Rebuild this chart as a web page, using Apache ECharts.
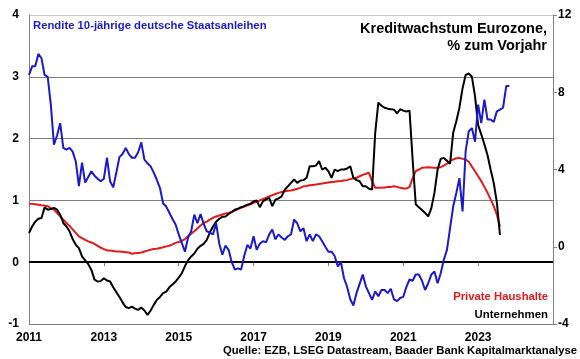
<!DOCTYPE html>
<html>
<head>
<meta charset="utf-8">
<script src="https://cdn.jsdelivr.net/npm/echarts@6/dist/echarts.min.js"></script>
<style>
html,body{margin:0;padding:0;background:#fff;}
#c{width:580px;height:359px;}
</style>
</head>
<body>
<div id="c"></div>
<script>
// Monthly data starting January 2011
const startYear = 2011;
const xTickLabels = ['2011','2013','2015','2017','2019','2021','2023'];
const leftTicks = [-1, 0, 1, 2, 3, 4];
const rightTicks = [-4, 0, 4, 8, 12];

// Rendite 10-jährige deutsche Staatsanleihen (%), left axis
const yieldValues = [
  3.03,3.17,3.17,3.37,3.30,3.03,3.00,2.55,1.90,2.05,2.25,1.85,
  1.82,1.85,1.79,1.63,1.23,1.61,1.29,1.38,1.47,1.40,1.35,1.31,
  1.35,1.69,1.31,1.21,1.45,1.70,1.75,1.85,1.75,1.69,1.69,1.78,
  1.94,1.66,1.60,1.55,1.45,1.33,1.20,0.95,0.90,0.80,0.70,0.61,
  0.45,0.31,0.17,0.40,0.50,0.77,0.63,0.78,0.62,0.50,0.48,0.45,
  0.63,0.30,0.12,0.27,0.20,0.00,-0.12,-0.10,-0.12,0.10,0.28,0.22,
  0.42,0.20,0.30,0.34,0.32,0.45,0.53,0.37,0.45,0.40,0.36,0.42,
  0.45,0.69,0.63,0.50,0.55,0.34,0.45,0.34,0.45,0.42,0.34,0.25,
  0.17,0.17,0.10,-0.07,0.00,-0.26,-0.40,-0.60,-0.70,-0.50,-0.35,-0.20,
  -0.39,-0.50,-0.61,-0.47,-0.55,-0.45,-0.45,-0.50,-0.43,-0.60,-0.63,-0.58,
  -0.56,-0.40,-0.28,-0.30,-0.20,-0.20,-0.30,-0.45,-0.34,-0.20,-0.15,-0.34,
  -0.18,0.04,0.20,0.55,0.90,1.12,1.36,0.82,1.80,2.12,2.17,1.95,
  2.55,2.25,2.63,2.31,2.31,2.27,2.44,2.47,2.50,2.85,2.85
];

// Kreditwachstum private Haushalte (% yoy), right axis
const householdValues = [
  2.23,2.22,2.20,2.18,2.15,2.13,2.10,2.00,1.92,1.75,1.58,1.40,
  1.23,1.08,0.90,0.72,0.54,0.45,0.36,0.28,0.22,0.15,0.05,-0.05,
  -0.12,-0.19,-0.20,-0.22,-0.24,-0.24,-0.26,-0.28,-0.30,-0.36,-0.34,-0.32,
  -0.30,-0.25,-0.20,-0.15,-0.12,-0.10,-0.06,-0.03,0.02,0.05,0.12,0.20,
  0.25,0.30,0.40,0.55,0.68,0.80,0.95,1.10,1.23,1.30,1.40,1.50,
  1.57,1.62,1.67,1.72,1.75,1.80,1.87,1.95,2.01,2.08,2.15,2.20,
  2.27,2.33,2.40,2.47,2.53,2.60,2.67,2.73,2.79,2.83,2.87,2.90,
  2.91,2.95,3.00,3.05,3.13,3.15,3.18,3.20,3.22,3.25,3.27,3.30,
  3.33,3.35,3.37,3.39,3.40,3.43,3.45,3.50,3.55,3.57,3.65,3.72,
  3.78,3.83,3.40,3.05,3.05,3.05,3.07,3.09,3.10,3.13,3.10,3.05,
  3.02,3.01,3.10,3.55,3.92,4.00,4.09,4.10,4.12,4.10,4.09,4.09,
  4.12,4.20,4.30,4.43,4.52,4.58,4.60,4.55,4.52,4.40,4.15,3.91,
  3.65,3.40,3.10,2.80,2.45,2.10,1.66,1.05
];

// Kreditwachstum Unternehmen (% yoy), right axis
const corporateValues = [
  0.71,1.05,1.30,1.45,1.49,2.04,1.92,1.95,2.01,1.92,1.66,1.23,
  1.05,0.80,0.40,0.10,-0.07,-0.50,-0.70,-0.90,-1.20,-1.70,-1.80,-1.78,
  -1.63,-1.75,-1.80,-2.10,-2.35,-2.60,-2.88,-3.12,-3.18,-3.10,-3.20,-3.27,
  -3.15,-3.30,-3.53,-3.30,-3.01,-2.75,-2.60,-2.40,-2.32,-2.10,-1.95,-1.80,
  -1.60,-1.37,-1.00,-0.70,-0.50,-0.35,-0.10,0.05,0.15,0.35,0.75,1.05,
  1.30,1.45,1.55,1.57,1.70,1.80,1.92,1.97,2.05,2.10,2.18,2.22,
  2.35,2.40,2.05,2.35,2.45,2.53,2.10,2.44,2.50,2.61,2.95,3.13,
  3.31,3.48,3.31,3.43,3.45,3.57,4.17,4.17,4.20,4.43,4.00,4.09,
  3.91,3.57,4.00,3.91,4.00,4.00,4.05,4.17,3.57,3.45,3.39,3.13,
  3.13,3.00,2.96,5.90,7.46,7.30,7.20,7.15,7.12,7.10,6.91,7.12,
  7.05,7.00,7.05,4.50,2.20,2.04,1.90,1.75,1.57,2.00,2.80,4.00,
  4.55,4.60,4.45,4.30,5.90,6.50,7.20,8.20,8.90,8.97,8.80,7.80,
  6.30,5.82,5.30,4.75,4.00,3.30,2.30,0.60
];

function toPoints(values) {
  return values.map((v, i) => [startYear + i / 12, v]);
}

const FONT = 'Liberation Sans, Arial, sans-serif';
const chart = echarts.init(document.getElementById('c'), null, {renderer: 'canvas'});

chart.setOption({
  animation: false,
  backgroundColor: '#ffffff',
  grid: {left: 29, right: 27, top: 15, bottom: 35, containLabel: false},
  xAxis: {
    type: 'value',
    min: 2011, max: 2025, interval: 2,
    axisLine: {show: true, lineStyle: {color: '#808080', width: 1}},
    axisTick: {show: true, length: 4, lineStyle: {color: '#808080'}},
    splitLine: {show: false},
    axisLabel: {
      color: '#000', fontWeight: 'bold', fontSize: 12, fontFamily: FONT, margin: 8,
      formatter: v => xTickLabels.indexOf(String(v)) >= 0 ? String(v) : ''
    }
  },
  yAxis: [
    {
      type: 'value', min: leftTicks[0], max: leftTicks[leftTicks.length - 1], interval: 1,
      position: 'left',
      axisLine: {show: true, lineStyle: {color: '#808080', width: 1}},
      axisTick: {show: false},
      axisLabel: {color: '#000', fontWeight: 'bold', fontSize: 12, fontFamily: FONT, margin: 10},
      splitLine: {show: true, lineStyle: {color: ['#808080','#808080','#808080','#808080','#808080','#c8c8c8'], width: 1}}
    },
    {
      type: 'value', min: rightTicks[0], max: rightTicks[rightTicks.length - 1], interval: 4,
      position: 'right',
      axisLine: {show: true, lineStyle: {color: '#808080', width: 1}},
      axisTick: {show: true, inside: false, length: 4, lineStyle: {color: '#808080'}},
      axisLabel: {color: '#000', fontWeight: 'bold', fontSize: 12, fontFamily: FONT, margin: 5},
      splitLine: {show: false}
    }
  ],
  series: [
    {
      name: 'Private Haushalte', type: 'line', yAxisIndex: 1,
      data: toPoints(householdValues), showSymbol: false,
      lineStyle: {color: '#e3191b', width: 2}, z: 3
    },
    {
      name: 'Unternehmen', type: 'line', yAxisIndex: 1,
      data: toPoints(corporateValues), showSymbol: false,
      lineStyle: {color: '#000000', width: 2}, z: 4
    },
    {
      name: 'Rendite', type: 'line', yAxisIndex: 0,
      data: toPoints(yieldValues), showSymbol: false,
      lineStyle: {color: '#1a1acc', width: 2}, z: 5,
      markLine: {
        silent: true, symbol: 'none', label: {show: false},
        lineStyle: {color: '#000', width: 2, type: 'solid'},
        data: [{yAxis: 0}]
      }
    }
  ],
  graphic: [
    {type: 'text', left: 33, top: 20, z: 10,
      style: {text: 'Rendite 10-jährige deutsche Staatsanleihen', fill: '#1a1acc', font: 'bold 11.3px ' + FONT}},
    {type: 'text', right: 33, top: 21, z: 10,
      style: {text: 'Kreditwachstum Eurozone,', fill: '#000', font: 'bold 14.5px ' + FONT, textAlign: 'right'}},
    {type: 'text', right: 33, top: 38, z: 10,
      style: {text: '% zum Vorjahr', fill: '#000', font: 'bold 14.5px ' + FONT, textAlign: 'right'}},
    {type: 'text', right: 32, top: 291, z: 10,
      style: {text: 'Private Haushalte', fill: '#e3191b', font: 'bold 11.3px ' + FONT, textAlign: 'right'}},
    {type: 'text', right: 32, top: 309, z: 10,
      style: {text: 'Unternehmen', fill: '#000', font: 'bold 11.4px ' + FONT, textAlign: 'right'}},
    {type: 'text', right: 3, top: 345, z: 10,
      style: {text: 'Quelle: EZB, LSEG Datastream, Baader Bank Kapitalmarktanalyse', fill: '#000', font: 'bold 11.3px ' + FONT, textAlign: 'right'}}
  ]
});
</script>
</body>
</html>
